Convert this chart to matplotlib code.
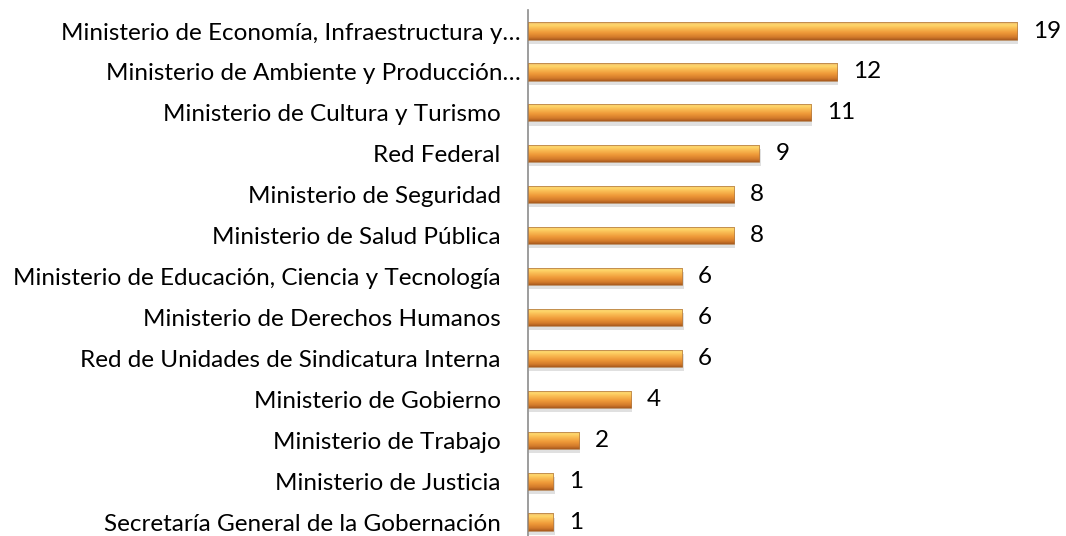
import numpy as np
import matplotlib.pyplot as plt
import matplotlib.transforms as mtransforms
from matplotlib.colors import LinearSegmentedColormap

categories = [
    'Ministerio de Economía, Infraestructura y…',
    'Ministerio de Ambiente y Producción…',
    'Ministerio de Cultura y Turismo ',
    'Red Federal ',
    'Ministerio de Seguridad ',
    'Ministerio de Salud Pública ',
    'Ministerio de Educación, Ciencia y Tecnología ',
    'Ministerio de Derechos Humanos ',
    'Red de Unidades de Sindicatura Interna ',
    'Ministerio de Gobierno ',
    'Ministerio de Trabajo ',
    'Ministerio de Justicia ',
    'Secretaría General de la Gobernación ',
]
values = [19, 12, 11, 9, 8, 8, 6, 6, 6, 4, 2, 1, 1]

plt.rcParams['font.family'] = ['Lato', 'DejaVu Sans']

fig = plt.figure(figsize=(10.66, 5.36), dpi=100)
ax = fig.add_axes([0.495, 0.0, 0.505, 0.981])

# vertical gradient for the bevelled orange bars (light top -> dark bottom)
grad = LinearSegmentedColormap.from_list('bar', [
    (0.0, '#E9B56A'), (0.15, '#FFD86C'), (0.35, '#F9BB52'),
    (0.6, '#EE9838'), (0.85, '#D27A2A'), (1.0, '#A85A1E')])
g = np.linspace(0, 1, 64).reshape(-1, 1)

ypos = np.arange(len(categories))
h = 0.42
for y, v in zip(ypos, values):
    # soft shadow
    ax.barh(y + 0.1, v, height=h, left=0.05, color='#c8c8c8', alpha=0.55, zorder=1)
    bars = ax.barh(y, v, height=h, color='none', edgecolor='#b07a45', linewidth=0.5, zorder=3)
    im = ax.imshow(g, cmap=grad, aspect='auto', extent=[0, v, y + h / 2, y - h / 2],
                   zorder=2, interpolation='bilinear')
    im.set_clip_path(bars[0])
    ax.text(v + 0.62, y, str(v), va='center', ha='left', fontsize=17.5, color='black')

ax.set_xlim(0, 20.9)
ax.set_ylim(12.34, -0.51)
ax.set_yticks(ypos)
ax.set_yticklabels([c.rstrip() for c in categories], fontsize=17.5)
ax.tick_params(axis='y', length=0, pad=5)
# labels that had a trailing blank sit a bit further left
for lab, c in zip(ax.get_yticklabels(), categories):
    if c.endswith(' '):
        lab.set_transform(lab.get_transform() +
                          mtransforms.ScaledTranslation(-0.2, 0, fig.dpi_scale_trans))
ax.set_xticks([])
for s in ['top', 'right', 'bottom']:
    ax.spines[s].set_visible(False)
ax.spines['left'].set_color('#8c8c8c')
ax.spines['left'].set_linewidth(1.2)

fig.savefig('out.png', dpi=100)
